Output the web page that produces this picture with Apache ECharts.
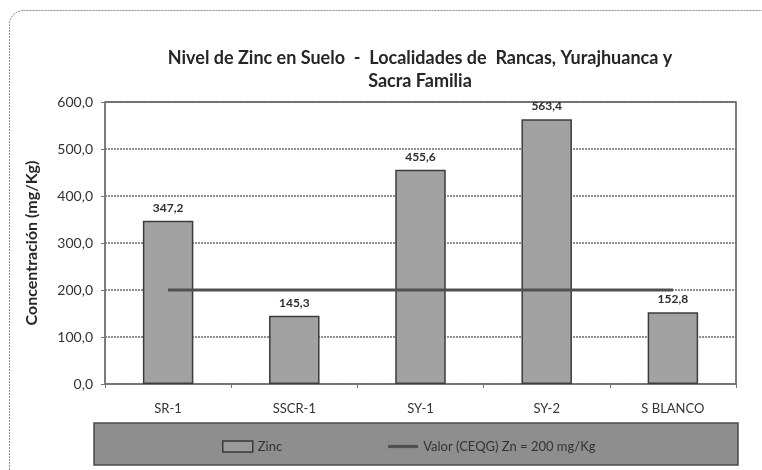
<!DOCTYPE html>
<html>
<head>
<meta charset="utf-8">
<script src="https://cdn.jsdelivr.net/npm/echarts@6/dist/echarts.min.js"></script>
<style>
  html, body { margin: 0; padding: 0; background: #fff; }
  #chart { width: 762px; height: 470px; }
</style>
</head>
<body>
<div id="chart"></div>
<script>
// Soil zinc levels by sampling site, against the CEQG guideline value
const categories = ['SR-1', 'SSCR-1', 'SY-1', 'SY-2', 'S BLANCO'];
const zincValues = [347.2, 145.3, 455.6, 563.4, 152.8];
const guidelineValues = [200, 200, 200, 200, 200];
const yTicks = { min: 0, max: 600, interval: 100 };

const FONT = 'Lato, "Open Sans", sans-serif';
const fmt = v => v.toFixed(1).replace('.', ',');

const chart = echarts.init(document.getElementById('chart'));
chart.setOption({
  animation: false,
  backgroundColor: '#ffffff',
  title: {
    text: 'Nivel de Zinc en Suelo  -  Localidades de  Rancas, Yurajhuanca y\nSacra Familia',
    left: 415,
    textAlign: 'center',
    top: 42,
    textStyle: {
      fontFamily: FONT, fontSize: 18, fontWeight: 'bold',
      color: '#262626', lineHeight: 23
    }
  },
  graphic: [
    // dashed outer chart frame
    {
      type: 'rect', z: 0, silent: true,
      shape: { x: 9.5, y: 10.5, width: 800, height: 520, r: 14 },
      style: { fill: 'none', stroke: '#8a8a8a', lineWidth: 1, lineDash: [2, 1] }
    },
    // legend panel
    {
      type: 'rect', z: 1, silent: true,
      shape: { x: 94, y: 423, width: 644, height: 42 },
      style: { fill: '#8e8e8e', stroke: '#4a4a4a', lineWidth: 1.5 }
    }
  ],
  legend: {
    left: 217,
    top: 435,
    itemGap: 106,
    itemWidth: 30,
    itemHeight: 11,
    z: 5,
    textStyle: { fontFamily: FONT, fontSize: 13, color: '#333' },
    data: [
      { name: 'Zinc', icon: 'rect',
        itemStyle: { color: '#9a9a9a', borderColor: '#3a3a3a', borderWidth: 1.5 } },
      { name: 'Valor (CEQG) Zn = 200 mg/Kg', icon: 'path://M0 0H28V3H0Z',
        itemStyle: { color: '#505050' } }
    ]
  },
  grid: {
    left: 105, right: 26, top: 102, bottom: 86,
    show: true, borderColor: '#555', borderWidth: 1.5, backgroundColor: '#fff'
  },
  xAxis: {
    type: 'category',
    data: categories,
    boundaryGap: true,
    axisLine: { lineStyle: { color: '#777', width: 1 } },
    axisTick: { show: true, length: 4, lineStyle: { color: '#777' } },
    axisLabel: { margin: 18, fontFamily: FONT, fontSize: 13, color: '#333' }
  },
  yAxis: {
    type: 'value',
    min: yTicks.min, max: yTicks.max, interval: yTicks.interval,
    name: 'Concentración (mg/Kg)',
    nameLocation: 'middle',
    nameGap: 65,
    nameTextStyle: { fontFamily: FONT, fontSize: 16, fontWeight: 'bold', color: '#262626' },
    axisLine: { show: true, lineStyle: { color: '#777', width: 1 } },
    axisTick: { show: true, length: 4, lineStyle: { color: '#777' } },
    axisLabel: { margin: 12, fontFamily: FONT, fontSize: 14, color: '#333', formatter: fmt },
    splitLine: { lineStyle: { color: '#6a6a6a', type: [2, 1], width: 1.5 } }
  },
  series: [
    {
      name: 'Zinc',
      type: 'bar',
      data: zincValues,
      barWidth: '40%',
      itemStyle: { color: '#a2a2a2', borderColor: '#3c3c3c', borderWidth: 1.5 },
      label: {
        show: true, position: 'top', distance: 7,
        fontFamily: FONT, fontSize: 12, fontWeight: 'bold', color: '#2e2e2e',
        formatter: p => fmt(p.value)
      },
      z: 2
    },
    {
      name: 'Valor (CEQG) Zn = 200 mg/Kg',
      type: 'line',
      data: guidelineValues,
      symbol: 'none',
      lineStyle: { color: '#505050', width: 3 },
      itemStyle: { color: '#505050' },
      z: 3
    }
  ]
});
</script>
</body>
</html>
